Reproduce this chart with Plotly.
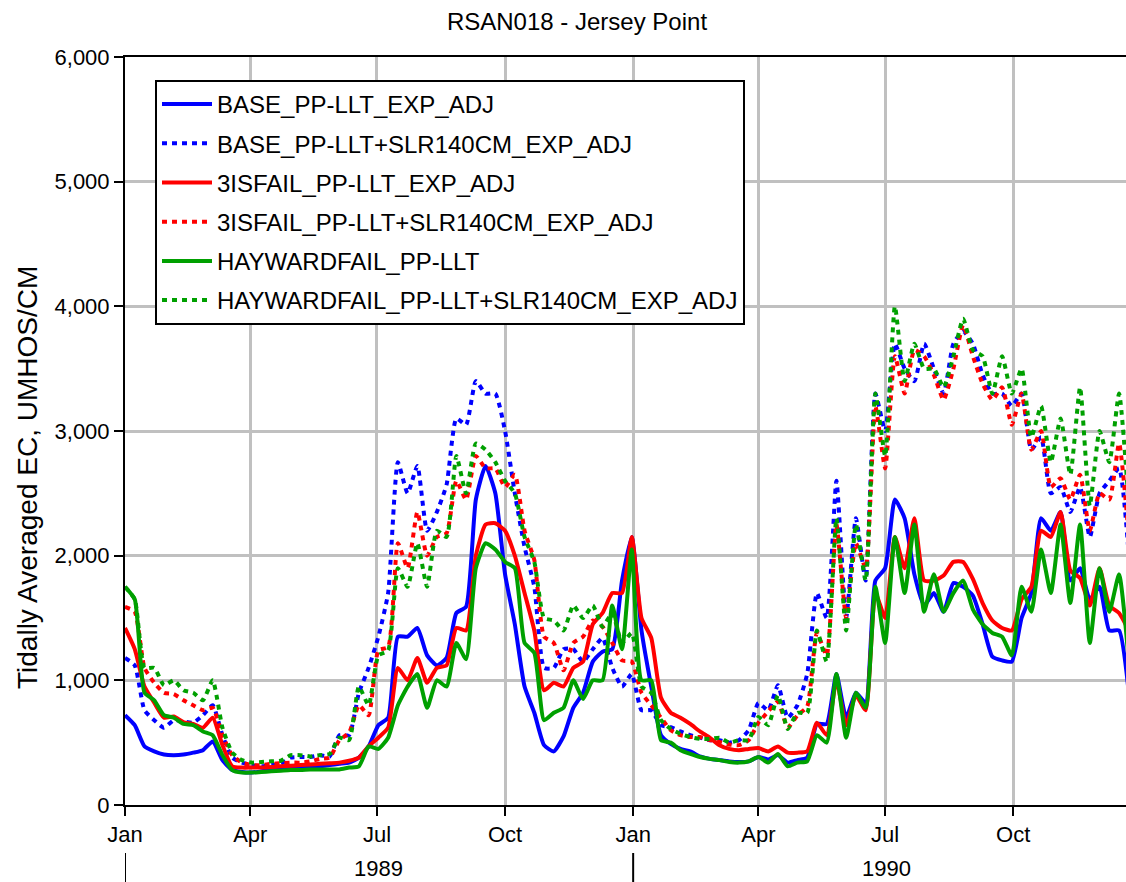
import pandas as pd
import plotly.graph_objects as go

# Weekly sample dates
dates = pd.date_range("1989-01-01", periods=104, freq="7D")

base = [720, 640, 470, 430, 405, 400, 405, 420, 440, 510,
        360, 280, 265, 260, 270, 280, 285, 290, 295, 300,
        310, 320, 330, 340, 380, 470, 640, 700, 1350, 1350,
        1420, 1200, 1120, 1180, 1540, 1590, 2450, 2720, 2500, 1850,
        1450, 950, 740, 480, 430, 550, 780, 900, 1150, 1230,
        1250, 1800, 2150, 1400, 950, 560, 490, 450, 430, 390,
        370, 360, 350, 345, 350, 385, 365, 400, 340, 360,
        380, 650, 650, 1050, 700, 900, 820, 1800, 1900, 2450,
        2300, 1850, 1600, 1700, 1550, 1780, 1750, 1680, 1450, 1190,
        1160, 1150, 1500, 1700, 2300, 2200, 2350, 1800, 1900, 1650,
        1750, 1400, 1400, 900]

base_slr = [1180, 1120, 760, 680, 620, 680, 670, 660, 720, 800,
            560, 380, 340, 320, 310, 320, 330, 380, 385, 385,
            400, 390, 560, 560, 900, 1100, 1350, 1700, 2750, 2500,
            2720, 2200, 2350, 2570, 3100, 3050, 3400, 3300, 3300, 3000,
            2500, 2070, 1750, 1100, 1100, 1250, 1250, 1150, 1250, 1340,
            1100, 950, 1050, 760, 760, 640, 625, 590, 560, 540,
            520, 520, 500, 520, 600, 818, 760, 960, 700, 800,
            1050, 1700, 1500, 2600, 1500, 2300, 1800, 3300, 3000, 3700,
            3500, 3400, 3700, 3500, 3300, 3700, 3800, 3700, 3450, 3300,
            3300, 3200, 3300, 2850, 2950, 2500, 2550, 2350, 2550, 2150,
            2500, 2600, 2700, 2000]

isfail = [1420, 1250, 950, 820, 700, 710, 665, 650, 620, 700,
          480, 310, 300, 300, 300, 305, 310, 315, 320, 325,
          330, 335, 340, 355, 380, 470, 540, 620, 1100, 1000,
          1180, 980, 1100, 1120, 1420, 1400, 2000, 2250, 2260, 2200,
          2000, 1700, 1400, 920, 980, 950, 1100, 1150, 1450, 1540,
          1700, 1700, 2150, 1500, 1340, 860, 740, 700, 650, 590,
          540, 480, 450, 440, 450, 457, 430, 470, 420, 420,
          430, 660, 560, 1000, 640, 880, 760, 1700, 1500, 2150,
          1900, 2300, 1800, 1800, 1840, 1950, 1950, 1813, 1620, 1480,
          1420, 1400, 1650, 1750, 2200, 2150, 2350, 1880, 1820, 1600,
          1900, 1600, 1540, 1400]

isfail_slr = [1590, 1550, 1100, 980, 900, 890, 840, 800, 760, 780,
              560, 400, 340, 320, 320, 330, 335, 340, 340, 350,
              370, 380, 520, 580, 800, 720, 1240, 1267, 2100, 1900,
              2350, 2000, 2150, 2180, 2600, 2450, 2800, 2700, 2700, 2550,
              2650, 2200, 1965, 1350, 1300, 1080, 1300, 1350, 1480, 1430,
              1300, 1160, 1150, 900, 800, 700, 600, 560, 545, 545,
              520, 505, 485, 480, 520, 660, 750, 830, 620, 720,
              790, 1380, 1200, 2250, 1500, 2100, 1900, 3200, 2700, 3600,
              3300, 3650, 3600, 3450, 3250, 3500, 3850, 3600, 3380, 3250,
              3350, 3050, 3300, 2850, 3000, 2550, 2620, 2450, 2650, 2200,
              2500, 2450, 2900, 2150]

hayward = [1750, 1650, 900, 840, 720, 700, 650, 640, 590, 560,
           400, 280, 260, 260, 265, 270, 275, 280, 280, 285,
           285, 285, 285, 300, 310, 470, 450, 540, 800, 950,
           1050, 780, 1000, 950, 1300, 1170, 1900, 2100, 2050, 1950,
           1900, 1300, 1220, 680, 740, 780, 1000, 850, 1000, 1000,
           1600, 1250, 2050, 1000, 1000, 520, 500, 440, 410, 385,
           370, 360, 345, 340, 350, 385, 340, 410, 310, 340,
           350, 560, 500, 1050, 540, 900, 780, 1750, 1300, 2150,
           1700, 2250, 1550, 1850, 1550, 1700, 1800, 1570, 1450, 1380,
           1350, 1200, 1750, 1550, 2050, 1700, 2250, 1620, 2250, 1300,
           1900, 1550, 1850, 1150]

hayward_slr = [1750, 1650, 1100, 1100, 960, 1000, 920, 900, 840, 1000,
               620, 420, 360, 340, 345, 350, 355, 400, 400, 390,
               400, 410, 540, 520, 950, 800, 1200, 1240, 1900, 1750,
               2100, 1750, 2200, 2150, 2800, 2500, 2900, 2850, 2750, 2600,
               2500, 2150, 1950, 1500, 1480, 1400, 1600, 1500, 1600, 1430,
               1540, 1300, 1380, 950, 900, 680, 610, 570, 545, 530,
               530, 540, 500, 520, 520, 706, 640, 880, 610, 740,
               738, 1400, 1150, 2300, 1400, 2250, 1800, 3300, 2800, 4000,
               3400, 3700, 3500, 3500, 3350, 3600, 3900, 3650, 3600, 3300,
               3600, 3300, 3500, 2950, 3200, 2750, 3100, 2650, 3350, 2400,
               3000, 2750, 3300, 2400]

series = [
    ("BASE_PP-LLT_EXP_ADJ", base, "#0000FF", "solid"),
    ("BASE_PP-LLT+SLR140CM_EXP_ADJ", base_slr, "#0000FF", "5px,5px"),
    ("3ISFAIL_PP-LLT_EXP_ADJ", isfail, "#FF0000", "solid"),
    ("3ISFAIL_PP-LLT+SLR140CM_EXP_ADJ", isfail_slr, "#FF0000", "5px,5px"),
    ("HAYWARDFAIL_PP-LLT", hayward, "#00A000", "solid"),
    ("HAYWARDFAIL_PP-LLT+SLR140CM_EXP_ADJ", hayward_slr, "#00A000", "5px,5px"),
]

tick_dates = ["1989-01-01", "1989-04-01", "1989-07-01", "1989-10-01",
              "1990-01-01", "1990-04-01", "1990-07-01", "1990-10-01"]
tick_text = ["Jan", "Apr", "Jul", "Oct", "Jan", "Apr", "Jul", "Oct"]
year_labels = [("1989-07-02", "1989"), ("1990-07-02", "1990")]
year_breaks = ["1989-01-01", "1990-01-01"]

FONT = "Liberation Sans, Arial, sans-serif"

fig = go.Figure()
for i, (name, vals, color, dash) in enumerate(series):
    fig.add_trace(go.Scatter(
        x=dates, y=vals, name=name, mode="lines",
        legendgroup=f"g{i}",
        line=dict(color=color, width=4, dash=dash, shape="spline", smoothing=0.5),
    ))

annotations = [
    dict(x=d, y=-(868 - 805) / 748, xref="x", yref="paper", text=t,
         showarrow=False, font=dict(size=22, color="black", family=FONT),
         xanchor="center", yanchor="middle")
    for d, t in year_labels
]
annotations.append(dict(
    x=-(125 - 28) / 1001, y=(805 - 478) / 748, xref="paper", yref="paper",
    text="Tidally Averaged EC, UMHOS/CM", textangle=-90, showarrow=False,
    font=dict(size=28, color="black", family=FONT),
    xanchor="center", yanchor="middle"))

shapes = [
    dict(type="line", xref="x", yref="paper", x0=d, x1=d,
         y0=-(853 - 805) / 748, y1=-(882 - 805) / 748,
         line=dict(color="black", width=2))
    for d in year_breaks
]

fig.update_layout(
    width=1126, height=882,
    margin=dict(l=125, r=0, t=57, b=77),
    paper_bgcolor="white", plot_bgcolor="white",
    font=dict(family=FONT, size=22, color="black"),
    title=dict(text="RSAN018 - Jersey Point", x=577 / 1126, xanchor="center",
               y=1 - 22 / 882, yanchor="middle", font=dict(size=24)),
    showlegend=True,
    legend=dict(x=(155 - 125) / 1001, y=(805 - 80) / 748, xanchor="left", yanchor="top",
                bgcolor="white", bordercolor="black", borderwidth=2,
                font=dict(size=24), tracegroupgap=5, itemwidth=50),
    annotations=annotations,
    shapes=shapes,
)
fig.update_xaxes(
    type="date", range=["1989-01-01", "1990-12-21"],
    tickvals=tick_dates, ticktext=tick_text,
    showgrid=True, gridcolor="#C0C0C0", gridwidth=2.5,
    showline=True, linecolor="black", linewidth=2, mirror=True,
    ticks="outside", ticklen=9, tickwidth=2, tickcolor="black",
    tickfont=dict(size=22), zeroline=False,
)
fig.update_yaxes(
    range=[0, 6000], tickvals=[0, 1000, 2000, 3000, 4000, 5000, 6000],
    tickformat=",d",
    showgrid=True, gridcolor="#C0C0C0", gridwidth=2.5,
    showline=True, linecolor="black", linewidth=2,
    ticks="outside", ticklen=9, tickwidth=2, tickcolor="black",
    tickfont=dict(size=22), zeroline=False,
)

fig.write_html(
    "out.html",
    config={"displayModeBar": False},
    post_script="document.body.style.margin='0';document.body.style.overflow='hidden';",
)
